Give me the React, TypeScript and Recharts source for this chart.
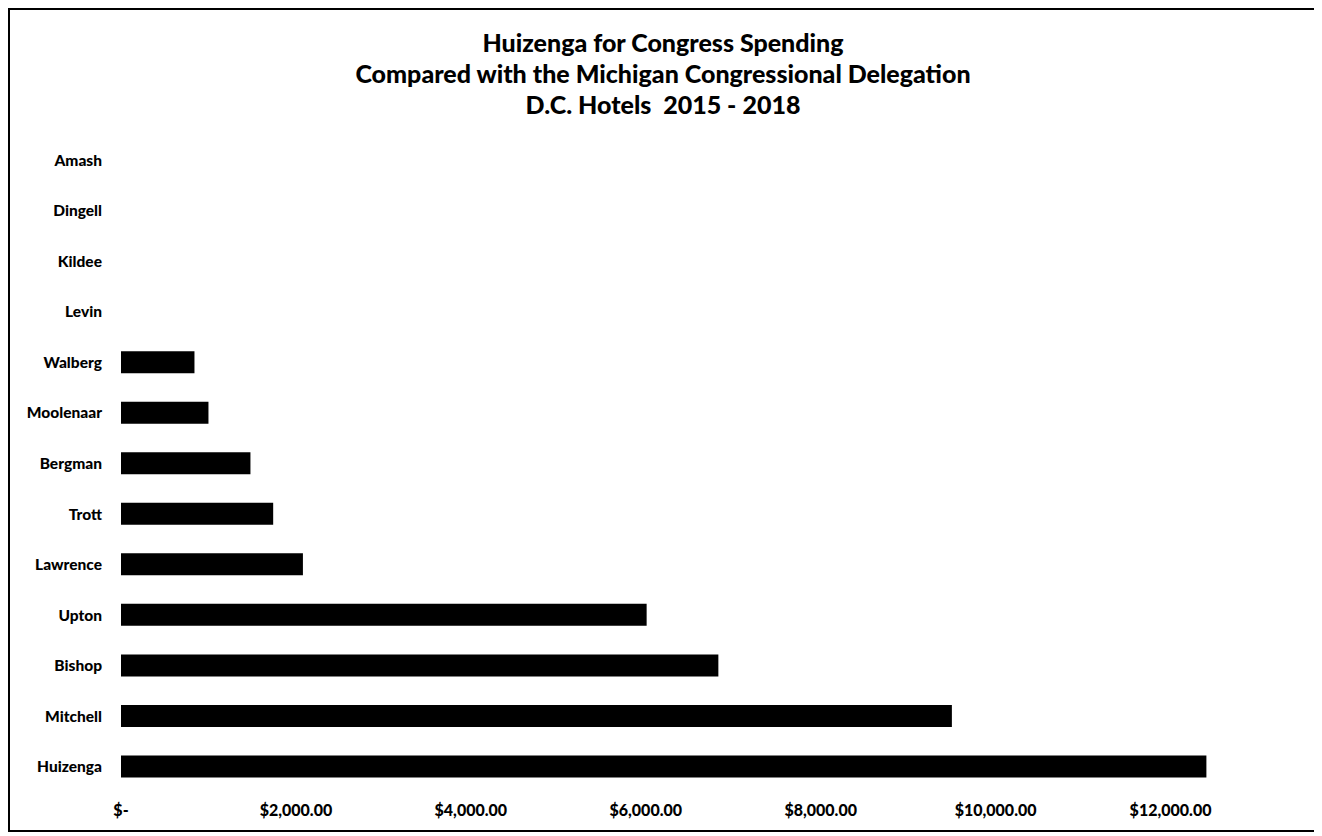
import { BarChart, Bar, XAxis, YAxis } from "recharts";

const members = [
  "Amash",
  "Dingell",
  "Kildee",
  "Levin",
  "Walberg",
  "Moolenaar",
  "Bergman",
  "Trott",
  "Lawrence",
  "Upton",
  "Bishop",
  "Mitchell",
  "Huizenga",
];
const hotelSpending = [0, 0, 0, 0, 840, 1000, 1480, 1740, 2080, 6010, 6830, 9500, 12410];
const xTicks = [0, 2000, 4000, 6000, 8000, 10000, 12000];
const titleLines = [
  "Huizenga for Congress Spending",
  "Compared with the Michigan Congressional Delegation",
  "D.C. Hotels  2015 - 2018",
];

const data = members.map((name, i) => ({ name, value: hotelSpending[i] }));

const font = "Lato, 'Open Sans', sans-serif";

const formatMoney = (v: number) =>
  v === 0
    ? "$-"
    : "$" + v.toLocaleString("en-US", { minimumFractionDigits: 2, maximumFractionDigits: 2 });

const App = () => {
  return (
    <div
      style={{
        position: "relative",
        width: 1310,
        height: 824,
        border: "2px solid #000",
        boxSizing: "border-box",
        background: "#fff",
        fontFamily: font,
      }}
    >
      <div
        style={{
          position: "absolute",
          top: 17,
          left: 0,
          width: "100%",
          textAlign: "center",
          fontWeight: 900,
          fontSize: 25,
          lineHeight: "31px",
          color: "#000",
        }}
      >
        {titleLines.map((line) => (
          <div key={line} style={{ whiteSpace: "pre" }}>
            {line}
          </div>
        ))}
      </div>
      <BarChart
        width={1306}
        height={820}
        data={data}
        layout="vertical"
        margin={{ top: 125, right: 58, bottom: 8, left: 11 }}
        barCategoryGap={0}
      >
        <XAxis
          type="number"
          domain={[0, 13000]}
          ticks={xTicks}
          tickFormatter={formatMoney}
          axisLine={false}
          tickLine={false}
          tickSize={0}
          tickMargin={13}
          height={30}
          tick={{ fill: "#000", fontSize: 16, fontWeight: 900, fontFamily: font }}
        />
        <YAxis
          type="category"
          dataKey="name"
          width={100}
          axisLine={false}
          tickLine={false}
          tickSize={0}
          tickMargin={19}
          interval={0}
          tick={{ fill: "#000", fontSize: 15.5, fontWeight: 900, fontFamily: font }}
        />
        <Bar dataKey="value" fill="#000" barSize={22} isAnimationActive={false} />
      </BarChart>
    </div>
  );
};

export default App;
